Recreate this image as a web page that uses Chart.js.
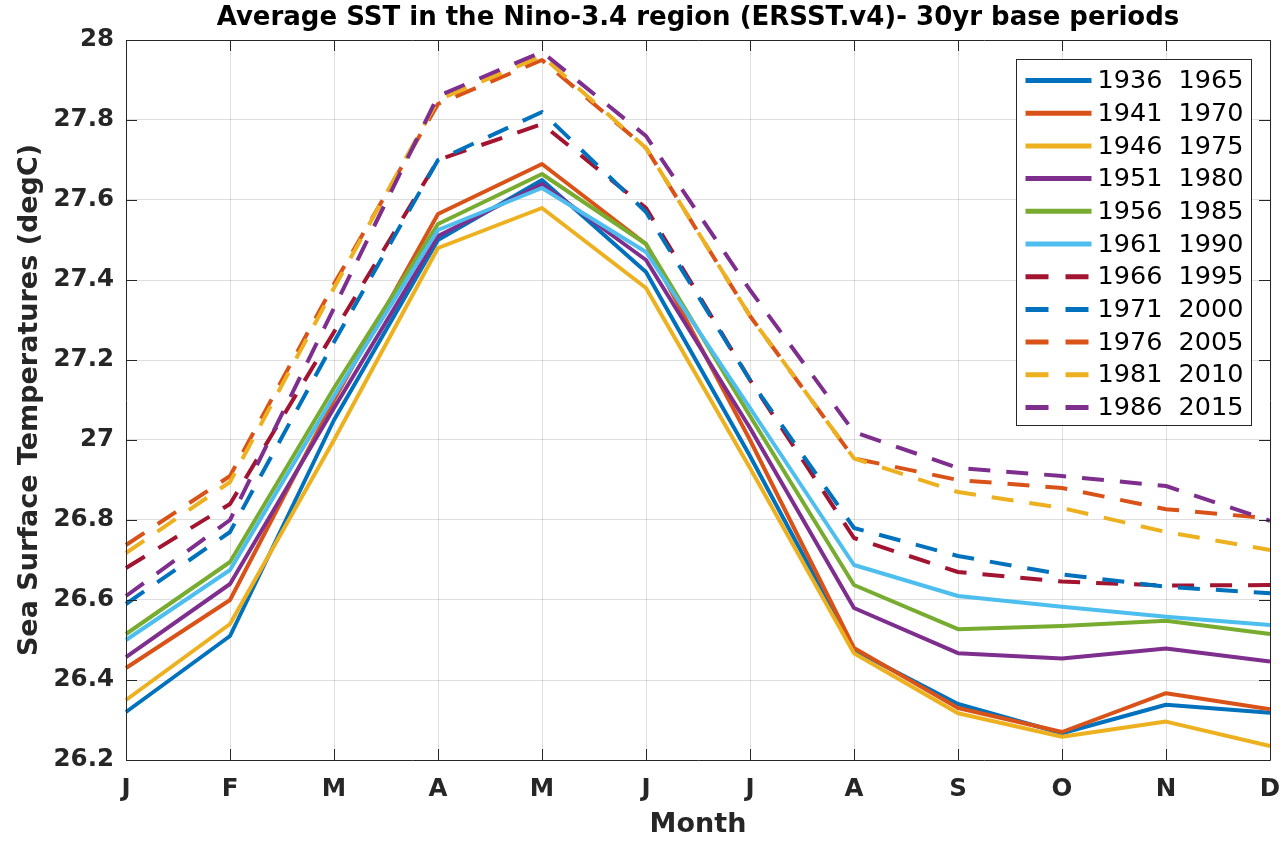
<!DOCTYPE html>
<html>
<head>
<meta charset="utf-8">
<script src="https://cdn.jsdelivr.net/npm/chart.js@4/dist/chart.umd.min.js"></script>
<style>
  html, body { margin: 0; padding: 0; background: #ffffff; }
  #wrap { width: 1284px; height: 841px; position: relative; }
</style>
</head>
<body>
<div id="wrap"><canvas id="c" width="1284" height="841"></canvas></div>
<script>
// ---- data ----
const months = ['J', 'F', 'M', 'A', 'M', 'J', 'J', 'A', 'S', 'O', 'N', 'D'];
const periods = ['1936  1965', '1941  1970', '1946  1975', '1951  1980', '1956  1985', '1961  1990',
                 '1966  1995', '1971  2000', '1976  2005', '1981  2010', '1986  2015'];
const sst1936 = [26.32, 26.51, 27.05, 27.50, 27.65, 27.42, 26.96, 26.475, 26.34, 26.267, 26.338, 26.318];
const sst1941 = [26.43, 26.60, 27.10, 27.565, 27.69, 27.49, 27.00, 26.48, 26.33, 26.27, 26.367, 26.327];
const sst1946 = [26.35, 26.54, 27.00, 27.48, 27.58, 27.38, 26.93, 26.467, 26.317, 26.258, 26.296, 26.235];
const sst1951 = [26.457, 26.64, 27.08, 27.51, 27.64, 27.45, 27.03, 26.58, 26.467, 26.454, 26.479, 26.446];
const sst1956 = [26.515, 26.695, 27.13, 27.54, 27.665, 27.49, 27.06, 26.6375, 26.527, 26.535, 26.548, 26.515];
const sst1961 = [26.50, 26.675, 27.11, 27.525, 27.63, 27.47, 27.08, 26.6875, 26.61, 26.583, 26.558, 26.5375];
const sst1966 = [26.68, 26.84, 27.27, 27.70, 27.79, 27.58, 27.15, 26.755, 26.67, 26.646, 26.636, 26.6375];
const sst1971 = [26.59, 26.77, 27.245, 27.70, 27.82, 27.57, 27.15, 26.78, 26.71, 26.664, 26.633, 26.617];
const sst1976 = [26.7375, 26.91, 27.39, 27.84, 27.95, 27.73, 27.31, 26.954, 26.90, 26.88, 26.827, 26.804];
const sst1981 = [26.7175, 26.895, 27.38, 27.85, 27.96, 27.73, 27.31, 26.954, 26.87, 26.83, 26.77, 26.725];
const sst1986 = [26.61, 26.80, 27.33, 27.86, 27.97, 27.76, 27.375, 27.02, 26.93, 26.91, 26.885, 26.798];
const yTicks = [26.2, 26.4, 26.6, 26.8, 27, 27.2, 27.4, 27.6, 27.8, 28];

// ---- styles ----
const seriesValues = [sst1936, sst1941, sst1946, sst1951, sst1956, sst1961, sst1966, sst1971, sst1976, sst1981, sst1986];
const colors = ['#0072BD', '#D95319', '#EDB120', '#7E2F8E', '#77AC30', '#4DBEEE',
                '#A2142F', '#0072BD', '#D95319', '#EDB120', '#7E2F8E'];
const dashed = [false, false, false, false, false, false, true, true, true, true, true];
const DASH = [22, 16];
const LW = 4;
const FONT = "'DejaVu Sans', sans-serif";
const AXC = '#262626';

const datasets = seriesValues.map((vals, i) => ({
  label: periods[i],
  data: vals,
  borderColor: colors[i],
  backgroundColor: colors[i],
  borderWidth: LW,
  borderDash: dashed[i] ? DASH : [],
  borderCapStyle: 'butt',
  borderJoinStyle: 'round',
  pointRadius: 0,
  tension: 0,
  fill: false,
  order: seriesValues.length - i
}));

const framePlugin = {
  id: 'frame',
  afterDatasetsDraw(chart) {
    const { ctx, chartArea: a, scales } = chart;
    ctx.save();
    ctx.strokeStyle = AXC;
    ctx.lineWidth = 1;
    ctx.beginPath();
    ctx.rect(Math.round(a.left) + 0.5, Math.round(a.top) + 0.5,
             Math.round(a.right - a.left), Math.round(a.bottom - a.top));
    ctx.stroke();
    const TL = 11;
    ctx.beginPath();
    months.forEach((m, i) => {
      const x = Math.round(scales.x.getPixelForValue(i)) + 0.5;
      ctx.moveTo(x, a.bottom); ctx.lineTo(x, a.bottom - TL);
      ctx.moveTo(x, a.top); ctx.lineTo(x, a.top + TL);
    });
    yTicks.forEach(v => {
      const y = Math.round(scales.y.getPixelForValue(v)) + 0.5;
      ctx.moveTo(a.left, y); ctx.lineTo(a.left + TL, y);
      ctx.moveTo(a.right, y); ctx.lineTo(a.right - TL, y);
    });
    ctx.stroke();

    // legend
    const bx = Math.round(a.right - 254) + 0.5, by = Math.round(a.top + 19) + 0.5;
    const bw = 235, bh = 366;
    ctx.fillStyle = '#ffffff';
    ctx.fillRect(bx, by, bw, bh);
    ctx.strokeStyle = AXC;
    ctx.lineWidth = 1;
    ctx.strokeRect(bx, by, bw, bh);
    ctx.font = '25.5px ' + FONT;
    ctx.textBaseline = 'middle';
    ctx.textAlign = 'left';
    periods.forEach((p, i) => {
      const y = by + 21 + i * 32.7;
      ctx.beginPath();
      ctx.strokeStyle = colors[i];
      ctx.lineWidth = LW + 1;
      ctx.lineCap = 'butt';
      ctx.setLineDash(dashed[i] ? [23, 17] : []);
      ctx.moveTo(bx + 9, y);
      ctx.lineTo(bx + 75, y);
      ctx.stroke();
      ctx.setLineDash([]);
      ctx.fillStyle = '#000000';
      ctx.fillText(p, bx + 81, y + 1);
    });
    ctx.restore();
  }
};

new Chart(document.getElementById('c'), {
  type: 'line',
  data: { labels: months, datasets },
  options: {
    responsive: false,
    animation: false,
    devicePixelRatio: 1,
    layout: { padding: { left: 0, right: 14, top: 0, bottom: 0 } },
    plugins: {
      legend: { display: false },
      tooltip: { enabled: false },
      title: {
        display: true,
        fullSize: false,
        text: 'Average SST in the Nino-3.4 region (ERSST.v4)- 30yr base periods',
        color: '#000000',
        font: { family: FONT, size: 26, weight: 'bold', lineHeight: 1.2 },
        padding: { top: 3, bottom: 5.8 }
      }
    },
    scales: {
      x: {
        type: 'category',
        offset: false,
        grid: { display: true, color: 'rgba(38,38,38,0.15)', drawTicks: false, offset: false },
        border: { display: false },
        ticks: { color: AXC, font: { family: FONT, size: 24.5, weight: 'bold' }, padding: 15, maxRotation: 0, autoSkip: false },
        title: { display: true, text: 'Month', color: AXC, font: { family: FONT, size: 27, weight: 'bold', lineHeight: 1.2 }, padding: { top: 0, bottom: 0 } },
        afterFit(s) { s.height = 81; s.paddingLeft = 0; s.paddingRight = 0; }
      },
      y: {
        min: 26.2, max: 28,
        afterBuildTicks(s) { s.ticks = yTicks.map(v => ({ value: v })); },
        grid: { display: true, color: 'rgba(38,38,38,0.15)', drawTicks: false },
        border: { display: false },
        ticks: { color: AXC, font: { family: FONT, size: 24.5, weight: 'bold' }, padding: 12,
                 callback: v => String(Number(v.toFixed(1))) },
        title: { display: true, text: 'Sea Surface Temperatures (degC)', color: AXC, font: { family: FONT, size: 27, weight: 'bold', lineHeight: 1.2 }, padding: { top: 14, bottom: 0 } },
        afterFit(s) { s.width = 126; s.paddingTop = 0; s.paddingBottom = 0; }
      }
    }
  },
  plugins: [framePlugin]
});
</script>
</body>
</html>
